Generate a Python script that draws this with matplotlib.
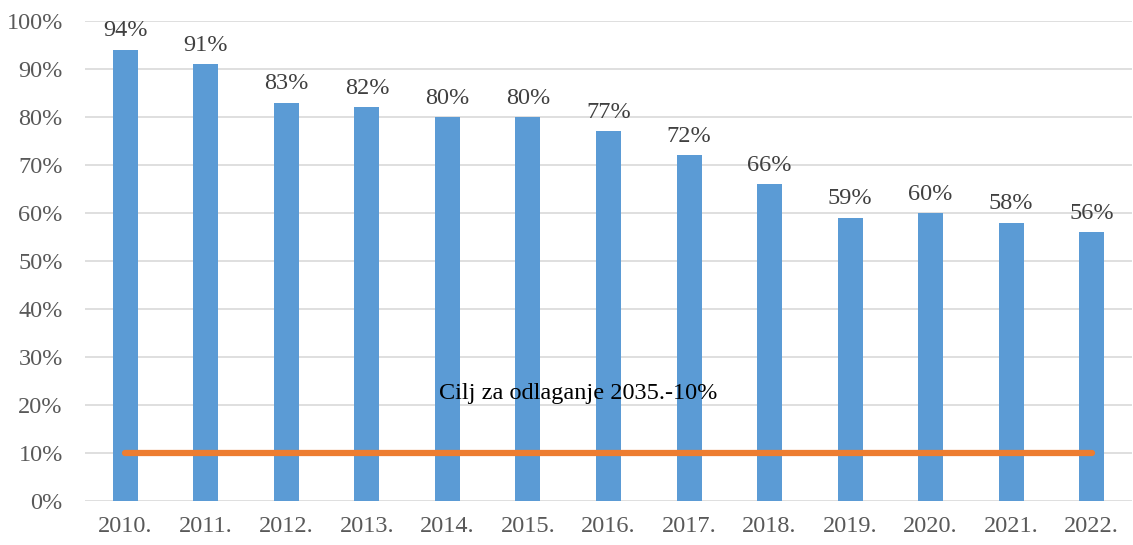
import numpy as np
import matplotlib.pyplot as plt

years = ["2010.", "2011.", "2012.", "2013.", "2014.", "2015.", "2016.",
         "2017.", "2018.", "2019.", "2020.", "2021.", "2022."]
shares = [94, 91, 83, 82, 80, 80, 77, 72, 66, 59, 60, 58, 56]
target = [10] * len(years)
target_label = "Cilj za odlaganje 2035.-10%"

plt.rcParams['font.family'] = ['Liberation Serif', 'DejaVu Serif']

fig = plt.figure(figsize=(11.33, 5.45), dpi=100)
ax = fig.add_axes([85 / 1133, 1 - 501 / 545, (1132 - 85) / 1133, (501 - 21) / 545])

x = np.arange(len(years))
ax.bar(x, shares, width=0.31, color="#5B9BD5", zorder=2)
ax.plot(x, target, color="#ED7D31", lw=4.5, solid_capstyle="round", zorder=3)

for xi, v in zip(x, shares):
    ax.annotate(f"{v}%", (xi, v), xytext=(0, 6), textcoords="offset points",
                ha="center", va="bottom", fontsize=17.5, color="#404040")

ax.text(3.9, 22.5, target_label, ha="left", va="center", fontsize=17.5, color="black")

ax.set_xlim(-0.5, len(years) - 0.5)
ax.set_ylim(0, 100)
ax.set_yticks(np.arange(0, 101, 10))
ax.set_yticklabels([f"{v}%" for v in range(0, 101, 10)])
ax.set_xticks(x)
ax.set_xticklabels(years)
ax.tick_params(length=0, labelsize=17.5, colors="#595959")
ax.tick_params(axis="x", pad=11)
ax.tick_params(axis="y", pad=16)
ax.grid(axis="y", color="#D9D9D9", lw=1.2, zorder=0)
for s in ax.spines.values():
    s.set_visible(False)
ax.set_axisbelow(True)

fig.savefig("out.png", dpi=100)
